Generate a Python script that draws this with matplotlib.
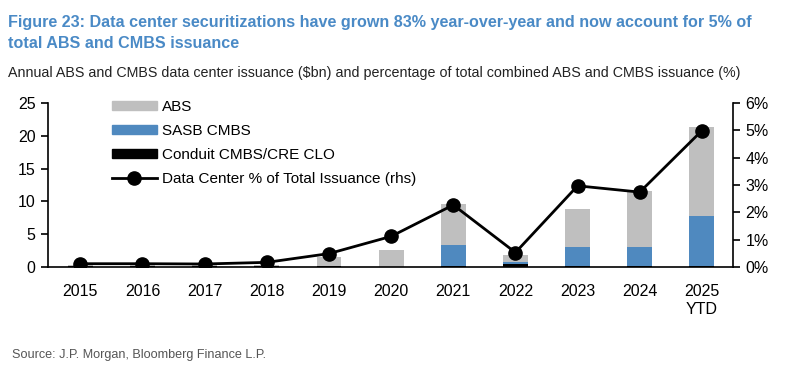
import matplotlib
matplotlib.use("Agg")
import matplotlib.pyplot as plt
import numpy as np
from matplotlib.lines import Line2D
from matplotlib.patches import Patch

plt.rcParams['font.family'] = ['Liberation Sans', 'DejaVu Sans']

years = ["2015", "2016", "2017", "2018", "2019", "2020", "2021", "2022", "2023", "2024", "2025\nYTD"]
conduit = [0.1, 0.1, 0.1, 0.2, 0.2, 0.0, 0.2, 0.4, 0.2, 0.1, 0.1]
sasb = [0.0, 0.0, 0.0, 0.0, 0.0, 0.0, 3.1, 0.35, 2.8, 3.0, 7.7]
abs_ = [0.15, 0.15, 0.15, 0.1, 1.3, 2.55, 6.3, 1.05, 5.9, 8.5, 13.5]
pct = [0.12, 0.12, 0.11, 0.17, 0.49, 1.12, 2.27, 0.53, 2.97, 2.74, 4.99]

GRAY = "#bfbfbf"
BLUE = "#4f89bf"
TITLE_BLUE = "#4a8ac6"

fig = plt.figure(figsize=(7.85, 3.70), dpi=100)
ax = fig.add_axes([48/785, 1-267/370, (733-48)/785, (267-103)/370])
x = np.arange(len(years))
w = 0.4
c = np.array(conduit); s = np.array(sasb); a = np.array(abs_)
ax.bar(x, c, w, color="black", zorder=2)
ax.bar(x, s, w, bottom=c, color=BLUE, zorder=2)
ax.bar(x, a, w, bottom=c + s, color=GRAY, zorder=2)
ax.set_ylim(0, 25)
ax.set_yticks([0, 5, 10, 15, 20, 25])
ax.set_xlim(-0.52, 10.5)
ax.set_xticks(x)
ax.set_xticklabels(years, linespacing=1.25)
for sp in ["top", "right"]:
    ax.spines[sp].set_visible(False)
ax.spines["left"].set_linewidth(1.2)
ax.spines["bottom"].set_linewidth(1.2)
ax.tick_params(axis="y", direction="out", length=5, width=1.2, labelsize=11.5, pad=4)
ax.tick_params(axis="x", length=0, labelsize=11.5, pad=12)

ax2 = ax.twinx()
ax2.plot(x, pct, color="black", lw=2, marker="o", ms=9.5, zorder=3)
ax2.set_ylim(0, 6)
ax2.set_yticks(range(7))
ax2.set_yticklabels([f"{i}%" for i in range(7)])
for sp in ["top", "left", "bottom"]:
    ax2.spines[sp].set_visible(False)
ax2.spines["right"].set_linewidth(1.2)
ax2.tick_params(axis="y", direction="out", length=5, width=1.2, labelsize=11.5, pad=4)

handles = [Patch(color=GRAY), Patch(color=BLUE), Patch(color="black"),
           Line2D([], [], color="black", lw=2, marker="o", ms=9.5)]
labels = ["ABS", "SASB CMBS", "Conduit CMBS/CRE CLO", "Data Center % of Total Issuance (rhs)"]
ax2.legend(handles, labels, loc="upper left", bbox_to_anchor=(0.085, 1.055), frameon=False,
           fontsize=11, handlelength=2.9, handleheight=0.55, handletextpad=0.35, labelspacing=0.66,
           borderaxespad=0)

fig.text(8/785, 1-22/370, "Figure 23: Data center securitizations have grown 83% year-over-year and now account for 5% of",
         color=TITLE_BLUE, fontsize=11.6, fontweight="bold", va="center", ha="left")
fig.text(8/785, 1-44/370, "total ABS and CMBS issuance",
         color=TITLE_BLUE, fontsize=11.6, fontweight="bold", va="center", ha="left")
fig.text(8/785, 1-73/370, "Annual ABS and CMBS data center issuance ($bn) and percentage of total combined ABS and CMBS issuance (%)",
         color="#222222", fontsize=10.3, va="center", ha="left")
fig.text(12/785, 1-355/370, "Source: J.P. Morgan, Bloomberg Finance L.P.",
         color="#555555", fontsize=9.1, va="center", ha="left")

fig.savefig("out.png", dpi=100)
